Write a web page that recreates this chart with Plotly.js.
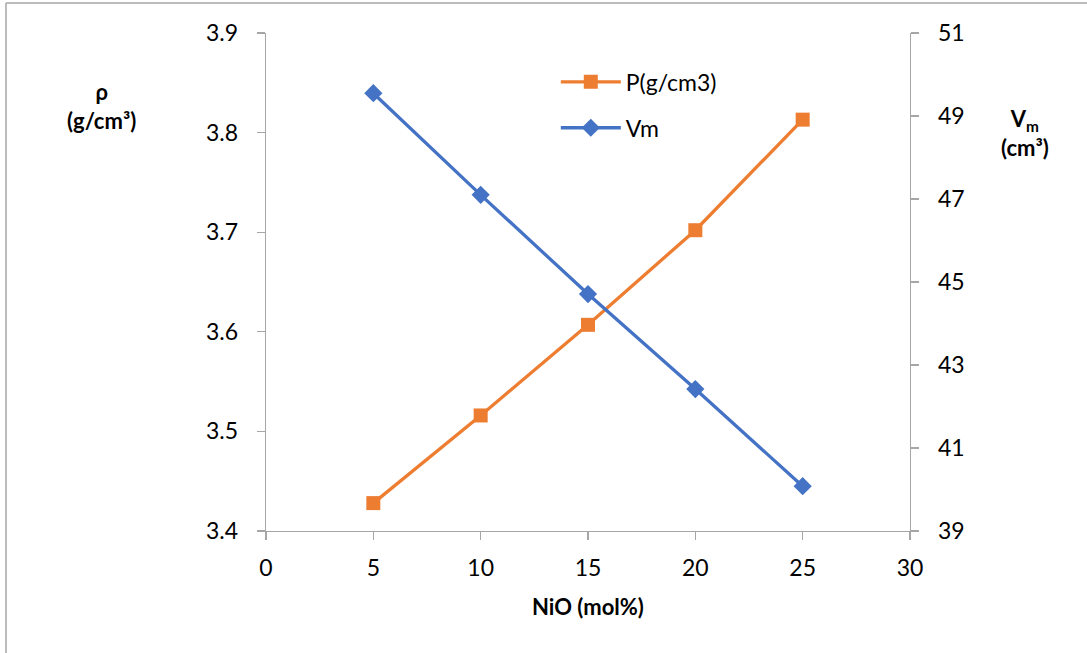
<!DOCTYPE html>
<html>
<head>
<meta charset="utf-8">
<script src="https://cdn.plot.ly/plotly-3.0.1.min.js"></script>
<style>html,body{margin:0;padding:0;background:#fff}#chart{width:1087px;height:653px}</style>
</head>
<body>
<div id="chart"></div>
<script>
const nio = [5, 10, 15, 20, 25];
const density = [3.428, 3.516, 3.607, 3.702, 3.813];
const molarVolume = [49.55, 47.10, 44.71, 42.42, 40.08];
const seriesNames = ["P(g/cm3)", "Vm"];

const FONT = "Lato, 'Open Sans', sans-serif";
const traces = [
  {x: nio, y: density, name: seriesNames[0], legendgroup: 'a', type: 'scatter', mode: 'lines+markers',
   line: {color: '#ED7D31', width: 3.3}, marker: {symbol: 'square', size: 14, color: '#ED7D31'}, yaxis: 'y'},
  {x: nio, y: molarVolume, name: seriesNames[1], legendgroup: 'b', type: 'scatter', mode: 'lines+markers',
   line: {color: '#4472C4', width: 3.3}, marker: {symbol: 'diamond', size: 14, color: '#4472C4'}, yaxis: 'y2'}
];
const axisCommon = {showgrid: false, zeroline: false, showline: true, linecolor: '#a6a6a6', linewidth: 1.3,
  ticks: 'outside', ticklen: 8, tickcolor: '#a6a6a6', tickwidth: 1.3,
  tickfont: {family: FONT, size: 23, color: '#000'}};
const layout = {
  width: 1087, height: 653,
  margin: {l: 266, r: 177, t: 33, b: 122},
  paper_bgcolor: '#fff', plot_bgcolor: '#fff',
  showlegend: true,
  legend: {x: 0.45, y: 0.945, xanchor: 'left', yanchor: 'top', bgcolor: 'rgba(0,0,0,0)',
    font: {family: FONT, size: 23, color: '#000'}, tracegroupgap: 13, itemwidth: 60},
  xaxis: Object.assign({}, axisCommon, {range: [0, 30], dtick: 5, tick0: 0, ticklabelstandoff: 8}),
  yaxis: Object.assign({}, axisCommon, {range: [3.4, 3.9], dtick: 0.1, tick0: 3.4, tickformat: '.1f', ticklabelstandoff: 14}),
  yaxis2: Object.assign({}, axisCommon, {range: [39, 51], dtick: 2, tick0: 39, overlaying: 'y', side: 'right', ticklabelstandoff: 14}),
  annotations: [
    {text: '<b>ρ<br>(g/cm³)</b>', xref: 'paper', yref: 'paper', x: (101 - 266) / 644, y: (531 - 106) / 498,
     xanchor: 'center', yanchor: 'middle',
     showarrow: false, font: {family: FONT, size: 22, color: '#000'}, align: 'center'},
    {text: '<b>V<sub>m</sub><br>(cm³)</b>', xref: 'paper', yref: 'paper', x: (1025 - 266) / 644, y: (531 - 133) / 498,
     xanchor: 'center', yanchor: 'middle',
     showarrow: false, font: {family: FONT, size: 22, color: '#000'}, align: 'center'},
    {text: '<b>NiO (mol%)</b>', xref: 'paper', yref: 'paper', x: (588 - 266) / 644, y: (531 - 606) / 498,
     xanchor: 'center', yanchor: 'middle',
     showarrow: false, font: {family: FONT, size: 22, color: '#000'}}
  ],
  shapes: [
    {type: 'line', xref: 'paper', yref: 'paper', x0: (6 - 266) / 644, x1: (6 - 266) / 644, y0: (531 - 3) / 498, y1: (531 - 660) / 498,
     line: {color: '#a6a6a6', width: 1.5}},
    {type: 'line', xref: 'paper', yref: 'paper', x0: (6 - 266) / 644, x1: (1090 - 266) / 644, y0: (531 - 3) / 498, y1: (531 - 3) / 498,
     line: {color: '#a6a6a6', width: 1.5}}
  ]
};
Plotly.newPlot('chart', traces, layout, {displayModeBar: false, staticPlot: true});
</script>
</body>
</html>
